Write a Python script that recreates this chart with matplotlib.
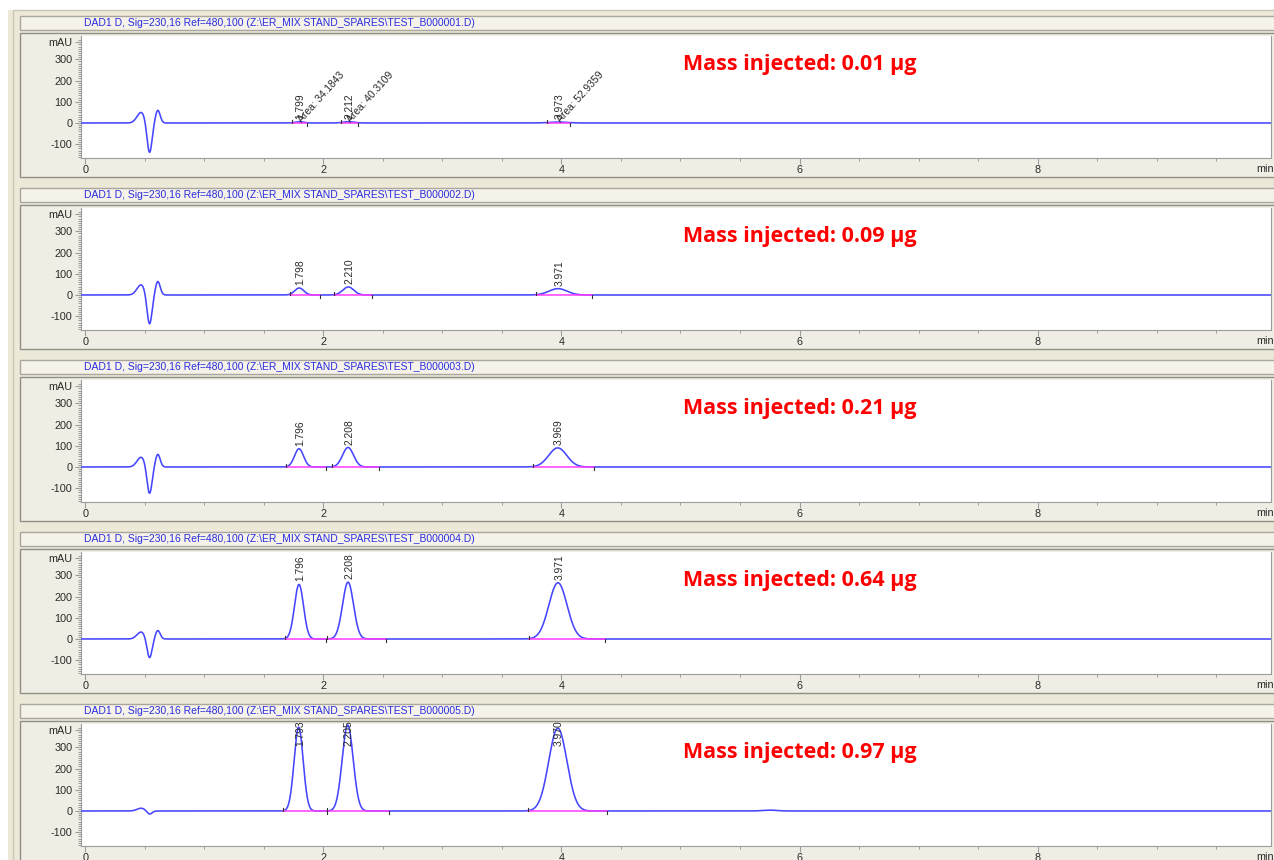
import matplotlib.pyplot as plt
import numpy as np
from matplotlib.patches import Rectangle
from matplotlib.ticker import MultipleLocator, FixedLocator

W, H = 1274, 860
PANEL_STEP = 172  # vertical pitch of the stacked chromatogram windows, px

# one window per injection
masses = ["0.01", "0.09", "0.21", "0.64", "0.97"]
data_files = ["TEST_B000001.D", "TEST_B000002.D", "TEST_B000003.D",
              "TEST_B000004.D", "TEST_B000005.D"]

# integrated peaks: retention time (min) and apex height (mAU)
peak_rt = [
    [1.799, 2.212, 3.973],
    [1.798, 2.210, 3.971],
    [1.796, 2.208, 3.969],
    [1.796, 2.208, 3.971],
    [1.793, 2.205, 3.970],
]
peak_height = [
    [6, 6, 4.7],
    [33, 38, 30],
    [86, 92, 90],
    [257, 268, 265],
    [395, 405, 390],
]
peak_sigma = [0.038, 0.046, 0.076]
areas_first = ["34.1843", "40.3109", "52.9359"]

# baseline start / end events for each integrated peak
bl_start = [
    [1.735, 2.15, 3.88],
    [1.72, 2.09, 3.79],
    [1.685, 2.076, 3.76],
    [1.68, 2.03, 3.73],
    [1.66, 2.03, 3.72],
]
bl_end = [
    [1.86, 2.29, 4.07],
    [1.97, 2.41, 4.26],
    [2.02, 2.47, 4.27],
    [2.02, 2.53, 4.37],
    [2.03, 2.55, 4.38],
]

# solvent front disturbance (bump, dip, bump)
front_time = [0.47, 0.54, 0.61]
front_sigma = [0.035, 0.021, 0.02]
front_height = [
    [50, -145, 60],
    [48, -142, 64],
    [46, -130, 60],
    [33, -92, 40],
    [13, -16, 0],
]
# small unintegrated bump in the last run
extra_rt, extra_height, extra_sigma = 5.75, 4, 0.06

BEIGE = "#ECE9D8"
PANEL_BG = "#F0EEE4"
TRACE = "#4646FF"
PINK = "#FF3CFF"
TXT = "#2A2A2A"
AXC = "#9C9C9C"

plt.rcParams["font.family"] = ["Liberation Sans", "DejaVu Sans"]

fig = plt.figure(figsize=(W / 100, H / 100), dpi=100, facecolor=BEIGE)


def px_rect(x0, y0, x1, y1, **kw):
    fig.patches.append(Rectangle((x0 / W, 1 - y1 / H), (x1 - x0) / W, (y1 - y0) / H,
                                 transform=fig.transFigure, zorder=-5, **kw))


px_rect(0, 0, W, 10, facecolor="white", edgecolor="none")
px_rect(0, 0, 8, H, facecolor="white", edgecolor="none")
px_rect(13, 10, W, H, facecolor=BEIGE, edgecolor="#C9C6B6", lw=1)

t = np.linspace(-0.035, 9.96, 5000)


def gauss(x, mu, h, s):
    return h * np.exp(-0.5 * ((x - mu) / s) ** 2)


for k in range(5):
    off = PANEL_STEP * k
    # title bar and frame of the window
    px_rect(20, 16 + off, W + 2, 30 + off, facecolor="#F4F2E9", edgecolor="#A8A69E", lw=1)
    px_rect(20, 33 + off, W + 2, 177 + off, facecolor=PANEL_BG, edgecolor="#8F8E89", lw=1)
    fig.text(84 / W, 1 - (23.5 + off) / H,
             f"DAD1 D, Sig=230,16 Ref=480,100 (Z:\\ER_MIX STAND_SPARES\\{data_files[k]})",
             color="#2C2CE0", fontsize=7.5, va="center", ha="left")

    ax = fig.add_axes([81 / W, 1 - (158 + off) / H, (1271 - 81) / W, 122 / H])
    ax.set_facecolor("white")
    ax.set_xlim(-0.035, 9.96)
    ax.set_ylim(-165, 410)

    y = np.zeros_like(t)
    for mu, h, s in zip(front_time, front_height[k], front_sigma):
        y += gauss(t, mu, h, s)
    for mu, h, s in zip(peak_rt[k], peak_height[k], peak_sigma):
        y += gauss(t, mu, h, s)
    if k == 4:
        y += gauss(t, extra_rt, extra_height, extra_sigma)
    ax.plot(t, y, color=TRACE, lw=1.15, zorder=3)

    # integration baselines and event ticks
    for s0, s1 in zip(bl_start[k], bl_end[k]):
        ax.plot([s0, s1], [0, 0], color=PINK, lw=1.1, zorder=4)
        ax.plot([s0, s0], [0, 16], color="#333333", lw=0.8, zorder=5)
        ax.plot([s1, s1], [0, -16], color="#333333", lw=0.8, zorder=5)

    # retention time labels
    for j, (mu, h) in enumerate(zip(peak_rt[k], peak_height[k])):
        ly = min(h + 14, 308)
        ax.text(mu + 0.01, ly, f"{mu:.3f}", rotation=90, ha="center", va="bottom",
                fontsize=7.4, color=TXT, zorder=6)
        if k == 0:
            ax.text(mu + 0.035, -6, f"Area: {areas_first[j]}", rotation=48,
                    rotation_mode="anchor", ha="left", va="bottom",
                    fontsize=7.4, color=TXT, zorder=6)

    ax.text(5.02, 276, f"Mass injected: {masses[k]} µg", color="#FF0000",
            fontsize=15.5, fontweight="bold", family=["Open Sans", "DejaVu Sans"],
            ha="left", va="center")

    # axes styling
    ax.spines["top"].set_visible(False)
    for side in ("left", "bottom", "right"):
        ax.spines[side].set_color(AXC)
        ax.spines[side].set_linewidth(0.8)
    ax.xaxis.set_major_locator(FixedLocator([0, 2, 4, 6, 8]))
    ax.xaxis.set_minor_locator(MultipleLocator(0.5))
    ax.yaxis.set_major_locator(FixedLocator([-100, 0, 100, 200, 300, 383]))
    ax.set_yticklabels(["-100", "0", "100", "200", "300", "mAU"])
    ax.yaxis.set_minor_locator(FixedLocator(np.arange(-160, 400, 10)))
    ax.tick_params(axis="both", which="major", colors=AXC, labelcolor=TXT,
                   labelsize=7.8, length=4.5, width=0.8, pad=1.5)
    ax.tick_params(axis="both", which="minor", colors=AXC, length=2.2, width=0.7)
    ax.tick_params(axis="x", which="major", pad=0.6)
    fig.text(1256 / W, 1 - (169 + off) / H, "min", color=TXT, fontsize=7.8,
             ha="left", va="center")

fig.savefig("out.png", dpi=100, facecolor=fig.get_facecolor())
